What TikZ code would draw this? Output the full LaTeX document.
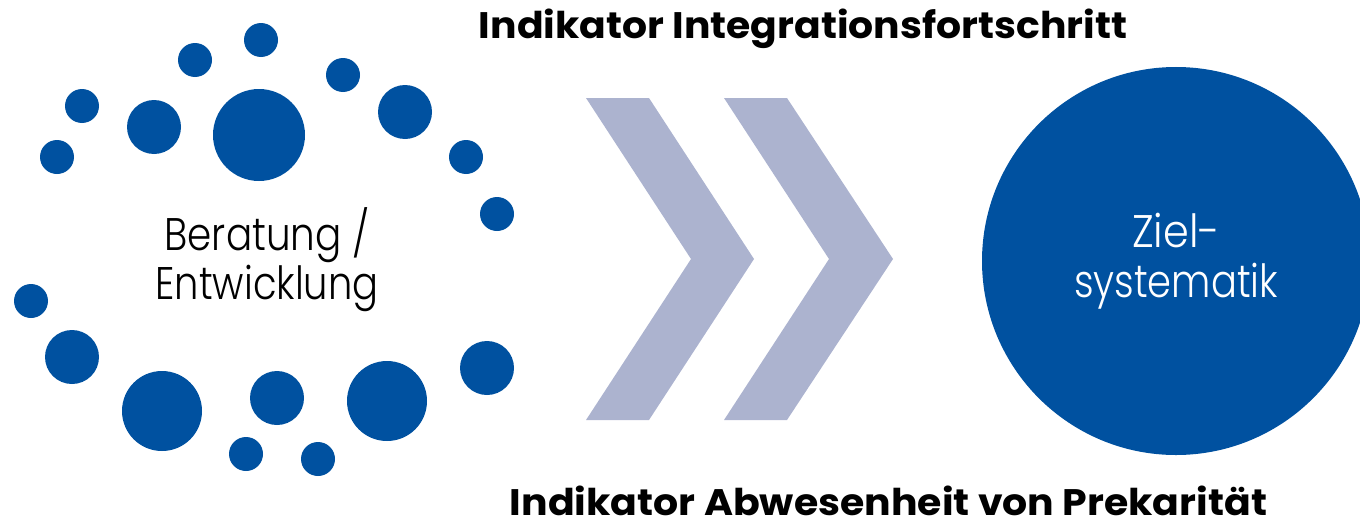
\documentclass[tikz,border=0pt]{standalone}
\usepackage{fontspec}
\setmainfont{Poppins}
\newfontfamily\lightfont{Poppins Light}
\definecolor{dotblue}{RGB}{0,81,160}
\definecolor{chevgray}{RGB}{172,179,207}
\newcommand{\fitw}[2]{\resizebox{#1}{\height}{#2}}
\tikzset{
    dot/.style={fill=dotblue},
    chevron/.style={fill=chevgray},
    bodytext/.style={font=\lightfont\fontsize{26}{27.5}\selectfont, align=center},
    titletext/.style={font=\bfseries\fontsize{21}{24}\selectfont, anchor=base}
}
\begin{document}
\begin{tikzpicture}[x=0.2mm, y=-0.2mm]
        \useasboundingbox (0,0) rectangle (1360,526);
        \clip (0,0) rectangle (1360,526);
        % dots round the left text
        \fill[dot] (261,40) circle (17);
        \fill[dot] (195,60) circle (17);
        \fill[dot] (343,75) circle (17);
        \fill[dot] (82,106) circle (17);
        \fill[dot] (154,127) circle (27);
        \fill[dot] (259,135) circle (46);
        \fill[dot] (405,112) circle (27);
        \fill[dot] (57,157) circle (17);
        \fill[dot] (466,157) circle (17);
        \fill[dot] (497,214) circle (17);
        \fill[dot] (31,301) circle (17);
        \fill[dot] (72,357) circle (27);
        \fill[dot] (162,411) circle (40);
        \fill[dot] (277,398) circle (27);
        \fill[dot] (387,401) circle (40);
        \fill[dot] (487,368) circle (27);
        \fill[dot] (246,454) circle (17);
        \fill[dot] (318,459) circle (17);
        \node[bodytext] (beratung) at (267,259.5) {\fitw{41mm}{Beratung /}\\\fitw{44.6mm}{Entwicklung}};
        % chevrons
        \fill[chevron] (586,98) -- (649,98) -- (754,259) -- (649,420) -- (586,420) -- (691,259) -- cycle;
        \fill[chevron] (724,98) -- (787,98) -- (893,259) -- (787,420) -- (724,420) -- (829,259) -- cycle;
        % goal circle
        \node[circle, fill=dotblue, minimum size=77.6mm, inner sep=0pt, text=white, bodytext,
              font=\lightfont\fontsize{26}{28.4}\selectfont] (ziel) at (1176,261)
              {\fitw{17.6mm}{Ziel-}\\\fitw{40.8mm}{systematik}};
        \node[titletext] (titletop) at (803,39) {\fitw{129.6mm}{Indikator Integrationsfortschritt}};
        \node[titletext, inner sep=1pt] (titlebottom) at (888.5,515) {\fitw{151.4mm}{Indikator Abwesenheit von Prekarität}};
    \end{tikzpicture}
\end{document}
